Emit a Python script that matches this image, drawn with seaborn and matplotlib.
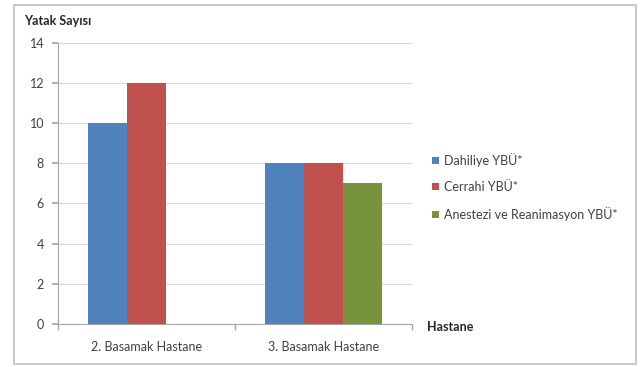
import matplotlib
matplotlib.use("Agg")
import matplotlib.pyplot as plt
from matplotlib.patches import Rectangle
import pandas as pd
import seaborn as sns

# Bed counts per hospital level and intensive care unit type
hospitals = ["2. Basamak Hastane", "3. Basamak Hastane"]
units = ["Dahiliye YBÜ*", "Cerrahi YBÜ*", "Anestezi ve Reanimasyon YBÜ*"]
dahiliye = [10, 8]
cerrahi = [12, 8]
anestezi = [0, 7]
y_ticks = [0, 2, 4, 6, 8, 10, 12, 14]

colors = ["#4F81BD", "#C0504D", "#77933C"]

rows = []
for unit, vals in zip(units, [dahiliye, cerrahi, anestezi]):
    for h, v in zip(hospitals, vals):
        rows.append({"Hastane": h, "Birim": unit, "Yatak": v})
df = pd.DataFrame(rows)

sns.set_theme(style="white")
plt.rcParams["font.family"] = ["Lato", "DejaVu Sans"]

fs = 9
fig = plt.figure(figsize=(6.43, 3.67), dpi=100)
fig.patch.set_facecolor("white")

# outer chart frame
fig.patches.append(Rectangle((14 / 643, 1 - 364 / 367), 622 / 643, 359 / 367,
                             transform=fig.transFigure, fill=False,
                             edgecolor="#BFBFBF", linewidth=1.2))

ax = fig.add_axes([58 / 643, 1 - 324 / 367, 354 / 643, 281.5 / 367])
sns.barplot(data=df, x="Hastane", y="Yatak", hue="Birim", order=hospitals,
            hue_order=units, palette=colors, width=0.66, saturation=1,
            linewidth=0, ax=ax, legend=False)

ax.set_xlim(-0.5, 1.5)
ax.set_ylim(0, 14)
ax.set_yticks(y_ticks)
ax.set_yticklabels([str(t) for t in y_ticks], fontsize=fs, color="#404040")
ax.yaxis.grid(True, color="#D9D9D9", linewidth=0.8)
ax.set_axisbelow(True)

ax.set_xticks([0, 1])
ax.set_xticklabels(hospitals, fontsize=fs, color="#404040")
ax.set_xticks([-0.5, 0.5, 1.5], minor=True)
ax.tick_params(axis="x", which="major", length=0, pad=12)
ax.tick_params(axis="x", which="minor", length=4, color="#A6A6A6", bottom=True)
ax.tick_params(axis="y", length=4, color="#A6A6A6", left=True, pad=6)

for side in ["top", "right"]:
    ax.spines[side].set_visible(False)
for side in ["left", "bottom"]:
    ax.spines[side].set_color("#A6A6A6")
    ax.spines[side].set_linewidth(0.8)

ax.set_xlabel("")
ax.set_ylabel("")
fig.text(24 / 643, 1 - 21 / 367, "Yatak Sayısı", fontsize=fs, fontweight="bold",
         color="#262626", va="center", ha="left")
fig.text(427 / 643, 1 - 327 / 367, "Hastane", fontsize=fs, fontweight="bold",
         color="#262626", va="center", ha="left")

handles = [Rectangle((0, 0), 1, 1, facecolor=c, edgecolor="none") for c in colors]
fig.legend(handles, units, loc="center left",
           bbox_to_anchor=(426 / 643, 1 - 187 / 367), frameon=False,
           fontsize=fs, labelspacing=1.15, handlelength=0.5, handleheight=0.5,
           handletextpad=0.45, borderpad=0, labelcolor="#404040")

fig.savefig("out.png", dpi=100, facecolor="white")
